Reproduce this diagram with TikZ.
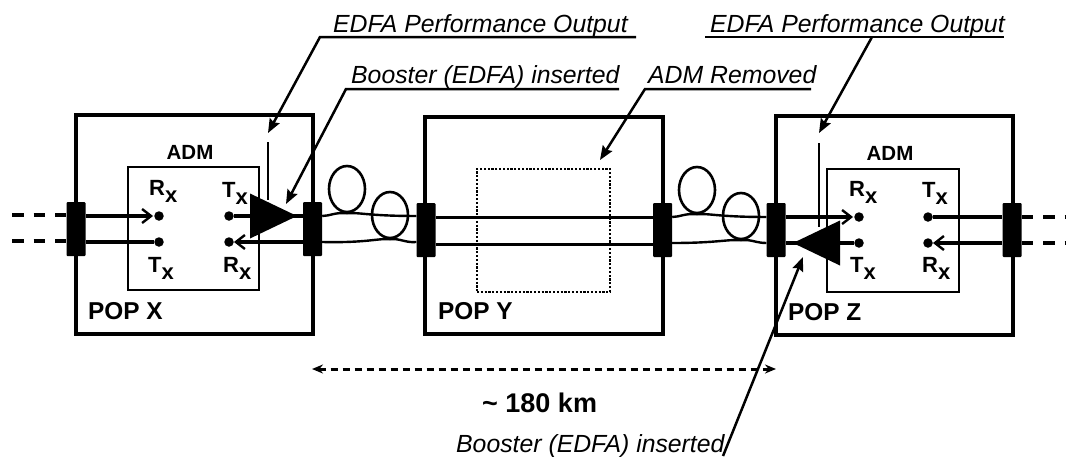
\documentclass[tikz,border=0pt]{standalone}
\usepackage{fontspec}
\setmainfont{Liberation Sans}
\usetikzlibrary{shapes.geometric, arrows.meta}
\newcommand{\portname}[1]{#1\raisebox{-0.33em}{x}}

\begin{document}
\begin{tikzpicture}
        [
            x = 1pt, y = -1pt,
            popbox/.style    = {shape=rectangle, draw, line width=3.3pt, anchor=north west, inner sep=0pt, outer sep=0pt},
            admbox/.style    = {popbox, line width=2.5pt},
            gonebox/.style   = {popbox, line width=2.4pt, dash pattern=on 2.2pt off 1.6pt},
            bar/.style       = {shape=rectangle, fill=black, rounded corners=1pt, inner sep=0pt, minimum width=19pt, minimum height=54pt},
            port/.style      = {shape=circle, fill=black, inner sep=0pt, minimum size=9.5pt},
            booster/.style   = {shape=isosceles triangle, fill=black, inner sep=0pt, outer sep=0pt, isosceles triangle stretches, minimum height=47pt, minimum width=45pt, anchor=apex},
            spool/.style     = {shape=ellipse, draw, line width=2.6pt, inner sep=0pt, minimum width=36pt, minimum height=46pt},
            fibre/.style     = {draw, line width=3.2pt},
            barb/.style      = {-{Straight Barb[length=9pt,width=14pt,line width=2.4pt]}},
            tail/.style      = {draw, line width=3.2pt, dash pattern=on 11.5pt off 10pt},
            thin fibre/.style = {draw, line width=2.4pt},
            leader/.style    = {draw, line width=2.5pt},
            head/.style      = {-{Stealth[length=14pt,width=11pt,inset=2pt]}},
            tap/.style       = {draw, line width=1.7pt},
            note/.style      = {font=\fontsize{24.8}{26}\selectfont\itshape, anchor=base west, inner sep=0pt},
            poplabel/.style  = {font=\fontsize{24.4}{26}\selectfont\bfseries, anchor=base west, inner sep=0pt},
            admlabel/.style  = {font=\fontsize{20.5}{22}\selectfont\bfseries, inner sep=0pt},
            portlabel/.style = {font=\fontsize{22}{24}\selectfont\bfseries, anchor=base west, inner sep=0pt},
            ]
            \useasboundingbox (0,0) rectangle (1066,456);

            % sites
            \node [popbox, minimum width=237pt, minimum height=219pt] (popx) at (76,115) {};
            \node [popbox, minimum width=238pt, minimum height=217pt] (popy) at (425,117) {};
            \node [popbox, minimum width=237pt, minimum height=219pt] (popz) at (776,116) {};
            \node [admbox, minimum width=131pt, minimum height=123pt] (admx) at (128,167) {};
            \node [gonebox, minimum width=133pt, minimum height=123pt] (admy) at (477,169) {};
            \node [admbox, minimum width=132pt, minimum height=123pt] (admz) at (827,169) {};
            \node [poplabel] (namex) at (88,319) {POP X};
            \node [poplabel] (namey) at (438,319) {POP Y};
            \node [poplabel] (namez) at (788,320) {POP Z};
            \node [admlabel] (titlex) at (190,152) {ADM};
            \node [admlabel] (titlez) at (890,153) {ADM};

            % connectors on the walls
            \node [bar] (barxl) at (76,229) {};
            \node [bar] (barxr) at (312.5,229) {};
            \node [bar] (baryl) at (426,230) {};
            \node [bar] (baryr) at (662.5,230) {};
            \node [bar] (barzl) at (776,230) {};
            \node [bar] (barzr) at (1012,230) {};

            % ports
            \node [port] (xrx) at (159,216) {};
            \node [port] (xtx) at (159,242) {};
            \node [port] (xout) at (229,216) {};
            \node [port] (xin) at (229,242) {};
            \node [port] (zrx) at (859,217) {};
            \node [port] (ztx) at (859,243) {};
            \node [port] (zout) at (928,217) {};
            \node [port] (zin) at (928,243) {};
            \node [portlabel] at (149,195) {\portname{R}};
            \node [portlabel] at (222,197) {\portname{T}};
            \node [portlabel] at (148,272) {\portname{T}};
            \node [portlabel] at (223,272) {\portname{R}};
            \node [portlabel] at (849,196) {\portname{R}};
            \node [portlabel] at (922,197) {\portname{T}};
            \node [portlabel] at (850,272) {\portname{T}};
            \node [portlabel] at (922,272) {\portname{R}};

            % amplifiers
            \node [booster] (ampx) at (297,216) {};
            \node [booster, shape border rotate=180] (ampz) at (793,243) {};

            % fibre spools
            \node [spool] (spoola) at (347,189) {};
            \node [spool] (spoolb) at (390,215) {};
            \node [spool] (spoolc) at (697,190) {};
            \node [spool] (spoold) at (741,216) {};

            % tails
            \coordinate (tailau) at (12,215);
            \coordinate (tailad) at (12,241);
            \coordinate (tailbu) at (1066,217);
            \coordinate (tailbd) at (1066,243);
            \path [tail] (tailau) -- (barxl.west |- tailau);
            \path [tail] (tailad) -- (barxl.west |- tailad);
            \path [tail] (barzr.east |- tailbu) -- (tailbu);
            \path [tail] (barzr.east |- tailbd) -- (tailbd);

            % fibres
            \path [fibre, barb, shorten >=1pt] (barxl.east |- xrx) -- (xrx.west);
            \path [fibre] (barxl.east |- xtx) -- (xtx.west);
            \path [fibre] (xout) -- (ampx.apex);
            \path [fibre] (ampx.apex) -- (barxr.west |- ampx.apex);
            \path [fibre, barb] (barxr.west |- xin) -- (xin.east);
            \path [thin fibre] (barxr.east |- xout) .. controls (330,216) and (335,212) .. (spoola.south) .. controls (358,212) and (368,216) .. (baryl.west |- xout);
            \path [thin fibre] (barxr.east |- xin) .. controls (368,243) and (378,238) .. (spoolb.south) .. controls (400,238) and (405,243) .. (baryl.west |- xin);
            \path [fibre] (baryl.east |- admy.west) ++(0,-13) -- ++(218,0);
            \path [fibre] (baryl.east |- admy.west) ++(0,14) -- ++(218,0);
            \path [thin fibre] (baryr.east |- zrx) .. controls (680,217) and (685,213) .. (spoolc.south) .. controls (708,213) and (718,217) .. (barzl.west |- zrx);
            \path [thin fibre] (baryr.east |- ztx) .. controls (718,243) and (728,239) .. (spoold.south) .. controls (751,239) and (756,243) .. (barzl.west |- ztx);
            \path [fibre, barb, shorten >=1pt] (barzl.east |- zrx) -- (zrx.west);
            \path [fibre] (ztx) -- (ampz.apex);
            \path [fibre] (ampz.apex) -- (barzl.east |- ampz.apex);
            \path [fibre] (zout) -- (barzr.west |- zout);
            \path [fibre, barb] (barzr.west |- zin) -- (zin.east);

            % annotations
            \node [note] (outa) at (333,32) {EDFA Performance Output};
            \node [note] (boostera) at (351,83) {Booster (EDFA) inserted};
            \node [note] (removed) at (648,83) {ADM Removed};
            \node [note] (outb) at (710,32) {EDFA Performance Output};
            \node [note] (boosterb) at (456,452) {Booster (EDFA) inserted};
            \coordinate (outastart) at (636,37);
            \coordinate (outabend) at (320,37);
            \coordinate (outatip) at (268,133);
            \coordinate (boosterastart) at (619,89);
            \coordinate (boosterabend) at (346,89);
            \coordinate (boosteratip) at (286,204);
            \coordinate (removedstart) at (811,89);
            \coordinate (removedbend) at (645,89);
            \coordinate (removedtip) at (600,160);
            \coordinate (outbstart) at (705,37);
            \coordinate (outbend) at (1004,37);
            \coordinate (outbfoot) at (872,37);
            \coordinate (outbtip) at (819,133);
            \coordinate (boosterbfoot) at (723,456);
            \coordinate (boosterbtip) at (803,257);
            \path [leader, head] (outastart) -- (outabend) -- (outatip);
            \path [leader, head] (boosterastart) -- (boosterabend) -- (boosteratip);
            \path [leader, head] (removedstart) -- (removedbend) -- (removedtip);
            \path [leader] (outbstart) -- (outbend);
            \path [leader, head] (outbfoot) -- (outbtip);
            \path [leader, head] (boosterbfoot) -- (boosterbtip);
            \coordinate (tapa) at (268,142);
            \coordinate (tapb) at (819,143);
            \path [tap] (tapa) -- (tapa |- ampx.north);
            \path [tap] (tapb) -- (tapb |- ampz.north);

            % span
            \coordinate (spanl) at (312,369);
            \coordinate (spanr) at (776,369);
            \path [draw, line width=3pt, dash pattern=on 7.5pt off 4.5pt, {Stealth[length=11pt,width=9pt]}-{Stealth[length=11pt,width=9pt]}] (spanl) -- (spanr);
            \node [poplabel, font=\fontsize{27}{29}\selectfont\bfseries] (span) at (482,412) {\textasciitilde{} 180 km};
        \end{tikzpicture}
\end{document}
